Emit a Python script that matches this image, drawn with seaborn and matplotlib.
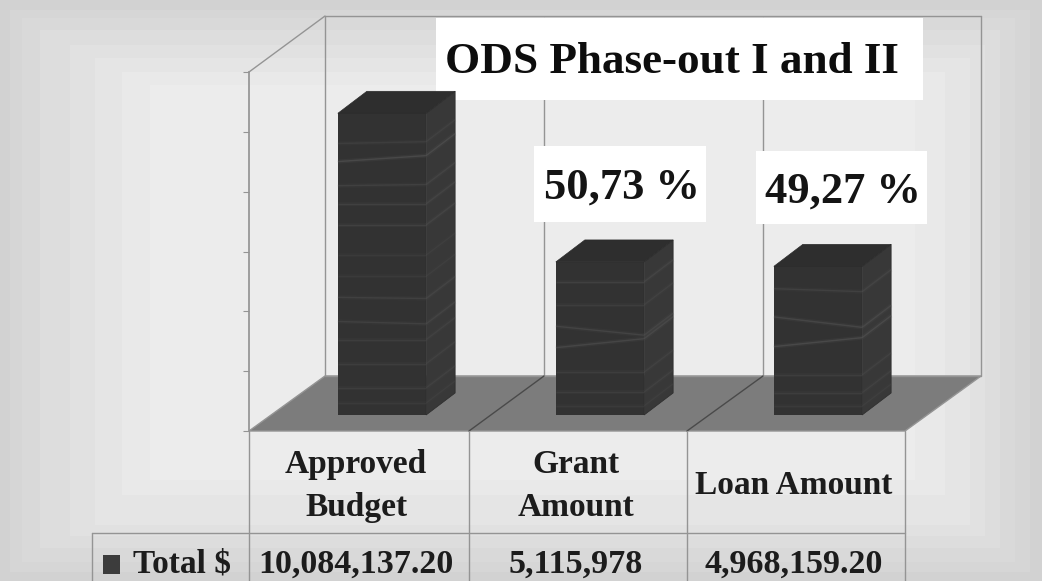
import matplotlib

matplotlib.use("Agg")

import matplotlib.pyplot as plt
import seaborn as sns
from matplotlib.patches import Polygon, Rectangle

categories = ["Approved Budget", "Grant Amount", "Loan Amount"]
category_labels = ["Approved\nBudget", "Grant\nAmount", "Loan Amount"]
totals = [10084137.20, 5115978, 4968159.20]
total_labels = ["10,084,137.20", "5,115,978", "4,968,159.20"]
percent_labels = ["50,73 %", "49,27 %"]
y_ticks = [0, 2000000, 4000000, 6000000, 8000000, 10000000, 12000000]
series_name = "Total $"
title = "ODS Phase-out I and II"

W, H = 1042, 581
SERIF = "Liberation Serif"
LINE = "#949494"
DARK = "#323232"

# streaks seen on the bar faces: (height fraction, tilt, brightness alpha)
streaks = [
    [(0.90, 0.006, 0.4), (0.84, 0.02, 0.8), (0.76, 0.004, 0.5), (0.70, 0.0, 0.5), (0.63, 0.0, 0.5),
     (0.53, 0.0, 0.3), (0.46, 0.0, 0.3), (0.39, -0.004, 0.5), (0.31, -0.008, 0.5), (0.25, 0.0, 0.4),
     (0.17, 0.0, 0.4), (0.09, 0.0, 0.4), (0.04, 0.0, 0.3)],
    [(0.87, 0.0, 0.5), (0.72, 0.0, 0.4), (0.58, -0.03, 0.6), (0.44, 0.03, 0.7), (0.28, 0.0, 0.4),
     (0.15, 0.0, 0.4), (0.06, 0.0, 0.3)],
    [(0.85, -0.01, 0.5), (0.66, -0.035, 0.7), (0.46, 0.03, 0.8), (0.27, 0.0, 0.4), (0.15, 0.0, 0.4),
     (0.06, 0.0, 0.3)],
]

sns.set_theme(style="white")
plt.rcParams["font.family"] = [SERIF, "DejaVu Sans"]
plt.rcParams["font.weight"] = "bold"

fig = plt.figure(figsize=(W / 100, H / 100), dpi=100)


def px_axes(left, top, right, bottom):
    return fig.add_axes([left / W, 1 - bottom / H, (right - left) / W, (bottom - top) / H])


# backdrop, walls, boxes and table live on a pixel canvas
bg = px_axes(0, 0, W, H)
bg.set_xlim(0, W)
bg.set_ylim(H, 0)
bg.axis("off")

rings = [
    (0, 0, 1042, 581, "#d2d2d2"),
    (10, 10, 1030, 572, "#d6d6d6"),
    (22, 18, 1015, 562, "#d9d9d9"),
    (40, 30, 1000, 548, "#dddddd"),
    (70, 45, 985, 536, "#e1e1e1"),
    (95, 58, 970, 525, "#e5e5e5"),
    (122, 72, 945, 495, "#e9e9e9"),
    (150, 85, 915, 480, "#ececec"),
]
for x0, y0, x1, y1, c in rings:
    bg.add_patch(Rectangle((x0, y0), x1 - x0, y1 - y0, fc=c, ec="none"))

# 3d box of the chart
bg.add_patch(Polygon([(249, 431), (905, 431), (981, 376), (325, 376)], fc="#7c7c7c", ec=LINE, lw=1))
bg.plot([325, 981, 981], [376, 376, 16], color=LINE, lw=1)
bg.plot([325, 325, 981], [376, 16, 16], color=LINE, lw=1)
bg.plot([249, 325], [72, 16], color=LINE, lw=1)
for x_front, x_back in [(469, 544), (687, 763)]:
    bg.plot([x_back, x_back], [376, 18], color=LINE, lw=1)
    bg.plot([x_front, x_back], [431, 376], color="#4a4a4a", lw=1)

# table
for x in [249, 469, 687, 905]:
    bg.plot([x, x], [431, H], color=LINE, lw=1)
bg.plot([92, 905], [533, 533], color=LINE, lw=1)
bg.plot([92, 92], [533, H], color=LINE, lw=1)
for i, name in enumerate(category_labels):
    x = [356, 576, 794][i]
    bg.text(x, 486, name, ha="center", va="center", fontsize=24, color="#1c1c1c", linespacing=1.5,
            family=SERIF, weight="bold")
    bg.text(x, 564, total_labels[i], ha="center", va="center", fontsize=24.5, color="#1c1c1c",
            family=SERIF, weight="bold")
bg.add_patch(Rectangle((103, 555), 17, 19, fc="#3c3c3c", ec="none"))
bg.text(133, 564, series_name, ha="left", va="center", fontsize=24, color="#1c1c1c", family=SERIF, weight="bold")

# white label boxes
bg.add_patch(Rectangle((436, 18), 487, 82, fc="white", ec="none", zorder=3))
bg.text(672, 62, title, ha="center", va="center", fontsize=32.5, color="#0d0d0d", family=SERIF, weight="bold",
        zorder=4)
for (x0, y0, x1, y1), text, shift in zip([(534, 146, 706, 222), (756, 151, 927, 224)], percent_labels, [2, 1]):
    bg.add_patch(Rectangle((x0, y0), x1 - x0, y1 - y0, fc="white", ec="none", zorder=3))
    bg.text((x0 + x1) / 2 + shift, (y0 + y1) / 2 + 4, text, ha="center", va="center", fontsize=32, color="#141414",
            family=SERIF, weight="bold", zorder=4)

# value axis on the front plane, ticks only
ax_y = px_axes(249, 72, 905, 431)
ax_y.patch.set_alpha(0)
ax_y.set_ylim(0, 12000000)
ax_y.set_yticks(y_ticks)
ax_y.set_yticklabels([])
ax_y.set_xticks([])
ax_y.tick_params(axis="y", left=True, length=4, width=0.8, color=LINE)
sns.despine(ax=ax_y, top=True, right=True, bottom=True)
ax_y.spines["left"].set_color(LINE)

# bars sit part way into the floor, same value scale
ax = px_axes(273, 56, 927, 415)
ax.patch.set_alpha(0)
sns.barplot(x=categories, y=totals, color=DARK, saturation=1, width=0.405, edgecolor=DARK, linewidth=0, ax=ax)
ax.set_xlim(-0.5, 2.5)
ax.set_ylim(0, 12000000)
ax.axis("off")

dx = 29 / 218
dy = 22 / 359 * 12000000
for bar, lines in zip(list(ax.patches), streaks):
    x0, w, h = bar.get_x(), bar.get_width(), bar.get_height()
    x1 = x0 + w
    side = Polygon([(x1, 0), (x1 + dx, dy), (x1 + dx, h + dy), (x1, h)], fc="#383838", ec="#2c2c2c", lw=0.5,
                   clip_on=False)
    top = Polygon([(x0, h), (x0 + dx, h + dy), (x1 + dx, h + dy), (x1, h)], fc="#2e2e2e", ec="#2c2c2c", lw=0.5,
                  clip_on=False)
    ax.add_patch(side)
    ax.add_patch(top)
    for frac, tilt, alpha in lines:
        y = h * frac
        y_end = y + tilt * 10000000
        for lw, a in [(3.0, 0.18), (1.0, 0.55)]:
            ax.plot([x0, x1], [y, y_end], color="#5e5e5e", lw=lw, alpha=alpha * a, solid_capstyle="butt")
            ax.plot([x1, x1 + dx], [y_end, y_end + dy], color="#5a5a5a", lw=lw, alpha=alpha * a,
                    solid_capstyle="butt")

fig.savefig("out.png", dpi=100)
plt.close(fig)
